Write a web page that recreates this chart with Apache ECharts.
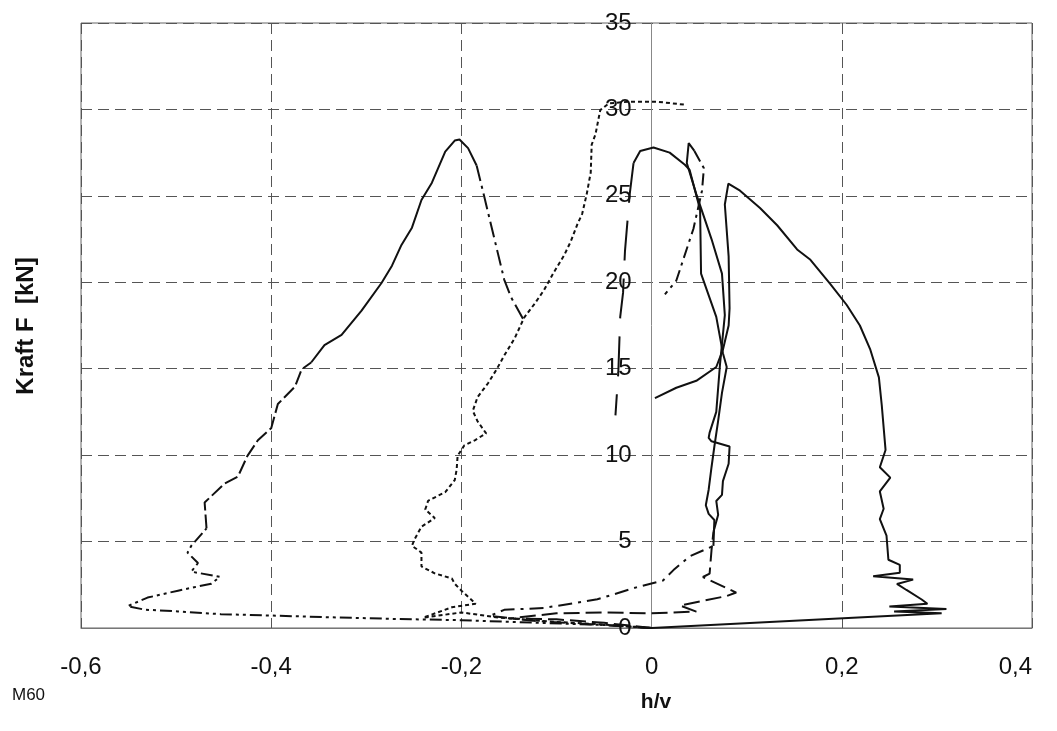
<!DOCTYPE html>
<html>
<head>
<meta charset="utf-8">
<script src="https://cdn.jsdelivr.net/npm/echarts@6/dist/echarts.min.js"></script>
<style>
html,body{margin:0;padding:0;background:#fff;}
#chart{width:1057px;height:731px;}
</style>
</head>
<body>
<div id="chart"></div>
<script>
// ---- axis ticks ----
const xTicks = [-0.6, -0.4, -0.2, 0, 0.2, 0.4];
const yTicks = [0, 5, 10, 15, 20, 25, 30, 35];

// ---- curve L (left, dash-dot-dot) : [h/v, F] ----
const curveL_bottom = [[0,0],[-0.043,0.16],[-0.12,0.3],[-0.2,0.45],[-0.267,0.52],[-0.337,0.62],[-0.4,0.72],[-0.453,0.8],[-0.498,0.96],[-0.533,1.06],[-0.551,1.26],[-0.53,1.76],[-0.498,2.16],[-0.481,2.36],[-0.463,2.56],[-0.454,2.96],[-0.484,3.26],[-0.477,3.76],[-0.488,4.36],[-0.484,4.76],[-0.468,5.76]];
const curveL_middle = [[-0.468,5.76],[-0.47,7.26],[-0.449,8.36],[-0.435,8.76],[-0.425,9.96],[-0.414,10.86],[-0.4,11.56],[-0.393,12.96],[-0.375,13.96],[-0.368,14.96],[-0.358,15.36]];
const curveL_upper = [[-0.358,15.36],[-0.344,16.36],[-0.326,16.96],[-0.305,18.36],[-0.284,19.96],[-0.273,20.96],[-0.263,22.16],[-0.252,23.16],[-0.242,24.76],[-0.231,25.76],[-0.217,27.56],[-0.207,28.2],[-0.202,28.26],[-0.193,27.76],[-0.184,26.76]];
const curveL_down = [[-0.184,26.76],[-0.176,24.96],[-0.169,23.36],[-0.162,21.76],[-0.155,20.16],[-0.148,19.16],[-0.136,17.96],[-0.134,17.76]];

// ---- curve M (dotted) ----
const curveM = [[0,0],[-0.05,0.2],[-0.1,0.35],[-0.16,0.6],[-0.2,0.9],[-0.24,0.6],[-0.21,1.2],[-0.185,1.4],[-0.2,2.16],[-0.207,2.56],[-0.21,2.86],[-0.228,3.16],[-0.242,3.56],[-0.242,4.36],[-0.252,4.76],[-0.249,5.16],[-0.242,5.86],[-0.228,6.36],[-0.238,6.86],[-0.235,7.36],[-0.217,7.86],[-0.207,8.56],[-0.205,9.16],[-0.204,9.96],[-0.197,10.56],[-0.186,10.86],[-0.174,11.26],[-0.183,11.96],[-0.188,12.56],[-0.183,13.36],[-0.172,14.16],[-0.163,14.96],[-0.155,15.76],[-0.144,16.76],[-0.134,17.96],[-0.123,18.76],[-0.113,19.56],[-0.103,20.56],[-0.092,21.56],[-0.085,22.36],[-0.078,23.36],[-0.073,23.96],[-0.068,25.16],[-0.064,26.36],[-0.063,27.96],[-0.059,28.56],[-0.054,29.96],[-0.045,30.35],[-0.023,30.45],[0.005,30.45],[0.037,30.26]];

// ---- curve B (dash-dot, long dash at the top) ----
const curveB_low = [[0,0],[-0.06,0.2],[-0.12,0.4],[-0.17,0.7],[-0.155,1.05],[-0.113,1.16],[-0.057,1.66],[-0.016,2.35],[0.012,2.75],[0.023,3.35],[0.04,4.15],[0.065,4.75]];
const curveB_mid = [[0.065,4.75],[0.066,6.25],[0.06,6.6],[0.057,7.1],[0.06,8.0],[0.063,9.3],[0.066,10.5],[0.07,12.0],[0.074,13.6],[0.079,15.1],[0.075,15.9],[0.068,18.0],[0.052,20.5],[0.051,24.2],[0.04,26.5],[0.035,26.8],[0.019,27.5],[0.002,27.8],[-0.012,27.6],[-0.019,26.9]];
const curveB_top = [[-0.019,26.9],[-0.023,25.1],[-0.028,21.8],[-0.03,19.4],[-0.033,18.0],[-0.035,14.8],[-0.038,12.3]];

// ---- curve D (long dash) ----
const curveD_low = [[0,0],[-0.05,0.3],[-0.1,0.5],[-0.15,0.55],[-0.1,0.85],[-0.05,0.9],[0.0,0.85],[0.047,0.95],[0.03,1.3],[0.079,1.85],[0.089,2.05],[0.054,2.95],[0.061,3.15],[0.063,4.5],[0.065,5.55]];
const curveD_mid = [[0.065,5.55],[0.07,6.55],[0.068,7.35],[0.074,7.7],[0.075,8.5],[0.081,9.5],[0.082,10.5],[0.063,10.8],[0.06,11.0],[0.061,11.3],[0.068,12.5],[0.072,15.3],[0.077,18.1],[0.074,20.5],[0.063,22.5],[0.047,25.1],[0.037,26.9],[0.039,28.05],[0.045,27.6]];
const curveD_down = [[0.045,27.6],[0.055,26.6],[0.053,25.3],[0.044,23.1],[0.026,20.1],[0.014,19.3]];

// ---- curve A (solid, right) ----
const curveA = [[0,0],[0.305,0.85],[0.255,0.95],[0.31,1.1],[0.25,1.25],[0.29,1.4],[0.284,1.65],[0.268,2.2],[0.258,2.55],[0.275,2.8],[0.233,3.0],[0.261,3.2],[0.261,3.65],[0.249,3.95],[0.247,5.35],[0.24,6.3],[0.244,6.9],[0.24,7.9],[0.251,8.7],[0.24,9.3],[0.246,10.3],[0.242,12.9],[0.239,14.5],[0.23,16.1],[0.219,17.5],[0.205,18.7],[0.188,19.9],[0.167,21.3],[0.153,21.9],[0.132,23.3],[0.114,24.3],[0.093,25.3],[0.0807,25.71],[0.077,24.5],[0.081,21.5],[0.082,18.5],[0.081,17.5],[0.075,16.1],[0.068,15.1],[0.047,14.3],[0.026,13.9],[0.0035,13.3]];

const FONT = "'Liberation Sans', Arial, sans-serif";
const fmt = v => Math.abs(v) < 1e-9 ? '0' : String(+v.toFixed(1)).replace('.', ',');

// plot area geometry
const GRID = { left: 81, right: 25, top: 23, bottom: 103 };
const plotWidth = 1057 - GRID.left - GRID.right;
const xMin = xTicks[0], xMax = xTicks[xTicks.length - 1];
// y axis sits at h/v = 0, so shift it inward from the left edge
const yAxisOffset = -((0 - xMin) / (xMax - xMin)) * plotWidth;

function line(data, type) {
  return {
    type: 'line', data: data, showSymbol: false, symbol: 'none',
    lineStyle: { color: '#111', width: 2, type: type },
    silent: true, z: 3
  };
}

const chart = echarts.init(document.getElementById('chart'), null, { renderer: 'canvas' });
chart.setOption({
  animation: false,
  backgroundColor: '#fff',
  grid: Object.assign({ show: true, borderColor: '#666', borderWidth: 1, containLabel: false }, GRID),
  xAxis: {
    type: 'value', min: xMin, max: xMax, interval: 0.2,
    axisLine: { show: true, onZero: false, lineStyle: { color: '#777', width: 1 } },
    axisTick: { show: false },
    axisLabel: { formatter: fmt, fontFamily: FONT, fontSize: 24, color: '#111', margin: 27, alignMaxLabel: 'right' },
    splitLine: { show: true, lineStyle: { color: '#555', type: [11, 6], width: 1 } }
  },
  yAxis: {
    type: 'value', min: yTicks[0], max: yTicks[yTicks.length - 1], interval: 5,
    position: 'left', offset: yAxisOffset,
    axisLine: { show: true, onZero: false, lineStyle: { color: '#888', width: 1 } },
    axisTick: { show: false },
    axisLabel: { formatter: fmt, fontFamily: FONT, fontSize: 24, color: '#111', margin: 20 },
    splitLine: { show: true, lineStyle: { color: '#555', type: [11, 6], width: 1 } }
  },
  series: [
    line(curveL_bottom, [12, 4, 3, 4, 3, 4]),
    line(curveL_middle, [14, 4]),
    line(curveL_upper, 'solid'),
    line(curveL_down, [16, 5, 3, 5]),
    line(curveM, [4, 3]),
    line(curveB_low, [14, 6, 3, 6]),
    line(curveB_mid, 'solid'),
    line(curveB_top, [40, 18]),
    line(curveD_low, [16, 6]),
    line(curveD_mid, 'solid'),
    line(curveD_down, [12, 5, 3, 5]),
    line(curveA, 'solid')
  ],
  graphic: [
    { type: 'text', x: 656, y: 702, style: { text: 'h/v', font: "bold 21px " + FONT, fill: '#111', textAlign: 'center', textVerticalAlign: 'middle' } },
    { type: 'text', x: 26, y: 326, rotation: Math.PI / 2, style: { text: 'Kraft F  [kN]', font: "bold 24px " + FONT, fill: '#111', textAlign: 'center', textVerticalAlign: 'middle' } },
    { type: 'text', x: 12, y: 695, style: { text: 'M60', font: "17px " + FONT, fill: '#111', textAlign: 'left', textVerticalAlign: 'middle' } }
  ]
});
</script>
</body>
</html>
